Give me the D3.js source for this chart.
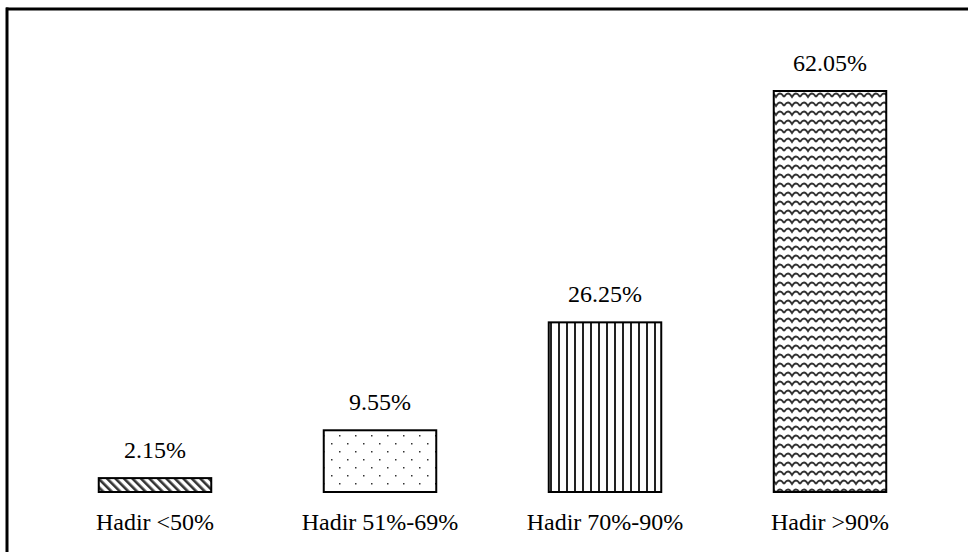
<!DOCTYPE html>
<html><head><meta charset="utf-8">
<script src="https://cdn.jsdelivr.net/npm/d3@7"></script>
<style>body{margin:0;background:#fff}svg{display:block}text{font-family:"Liberation Serif","Times New Roman",Times,serif}</style>
</head><body>
<script>
const categories = ["Hadir <50%", "Hadir 51%-69%", "Hadir 70%-90%", "Hadir >90%"];
const values = [2.15, 9.55, 26.25, 62.05];
const valueLabels = ["2.15%", "9.55%", "26.25%", "62.05%"];
const patterns = ["diag", "dots", "vlines", "waves"];

const W = 968, H = 552;
const svg = d3.select("body").append("svg").attr("width", W).attr("height", H);
const defs = svg.append("defs");

// diagonal hatch
const p1 = defs.append("pattern").attr("id","diag").attr("patternUnits","userSpaceOnUse")
  .attr("width",6).attr("height",6).attr("patternTransform","rotate(-45)");
p1.append("rect").attr("width",6).attr("height",6).attr("fill","#fff");
p1.append("rect").attr("x",0).attr("width",2.6).attr("height",6).attr("fill","#333");

// dots
const p2 = defs.append("pattern").attr("id","dots").attr("patternUnits","userSpaceOnUse")
  .attr("width",16).attr("height",16).attr("x",0).attr("y",0);
p2.append("rect").attr("width",16).attr("height",16).attr("fill","#fff");
p2.append("rect").attr("x",3).attr("y",3).attr("width",1.5).attr("height",1.5).attr("fill","#333");
p2.append("rect").attr("x",11).attr("y",11).attr("width",1.5).attr("height",1.5).attr("fill","#333");

// vertical lines
const p3 = defs.append("pattern").attr("id","vlines").attr("patternUnits","userSpaceOnUse")
  .attr("width",8).attr("height",8);
p3.append("rect").attr("width",8).attr("height",8).attr("fill","#fff");
p3.append("rect").attr("x",6).attr("width",2.2).attr("height",8).attr("fill","#222");

// waves
const p4 = defs.append("pattern").attr("id","waves").attr("patternUnits","userSpaceOnUse")
  .attr("width",16).attr("height",9);
p4.append("rect").attr("width",16).attr("height",9).attr("fill","#fff");
p4.append("path").attr("d","M0,7 Q4,0 8,7 Q12,0 16,7").attr("fill","none")
  .attr("stroke","#333").attr("stroke-width",1.8);

// frame: top and left lines
svg.append("line").attr("x1",6).attr("x2",968).attr("y1",9).attr("y2",9).attr("stroke","#000").attr("stroke-width",3);
svg.append("line").attr("x1",7).attr("x2",7).attr("y1",7.5).attr("y2",552).attr("stroke","#000").attr("stroke-width",3);

const x = d3.scaleBand().domain(categories).range([42.5, 942.5]).paddingInner(0.5).paddingOuter(0.25);
const y = d3.scaleLinear().domain([0, 62.05]).range([492, 91]);

svg.selectAll("rect.bar").data(values).enter().append("rect").attr("class","bar")
  .attr("x",(d,i)=>x(categories[i]))
  .attr("y",d=>y(d))
  .attr("width",x.bandwidth())
  .attr("height",d=>y(0)-y(d))
  .attr("fill",(d,i)=>`url(#${patterns[i]})`)
  .attr("stroke","#000").attr("stroke-width",2);

svg.selectAll("text.val").data(values).enter().append("text").attr("class","val")
  .attr("x",(d,i)=>x(categories[i])+x.bandwidth()/2)
  .attr("y",d=>y(d)-20)
  .attr("text-anchor","middle")
  .attr("font-size",24).attr("fill","#000")
  .text((d,i)=>valueLabels[i]);

svg.selectAll("text.cat").data(categories).enter().append("text").attr("class","cat")
  .attr("x",d=>x(d)+x.bandwidth()/2)
  .attr("y",530)
  .attr("text-anchor","middle")
  .attr("font-size",24).attr("fill","#000")
  .text(d=>d);
</script>
</body></html>
